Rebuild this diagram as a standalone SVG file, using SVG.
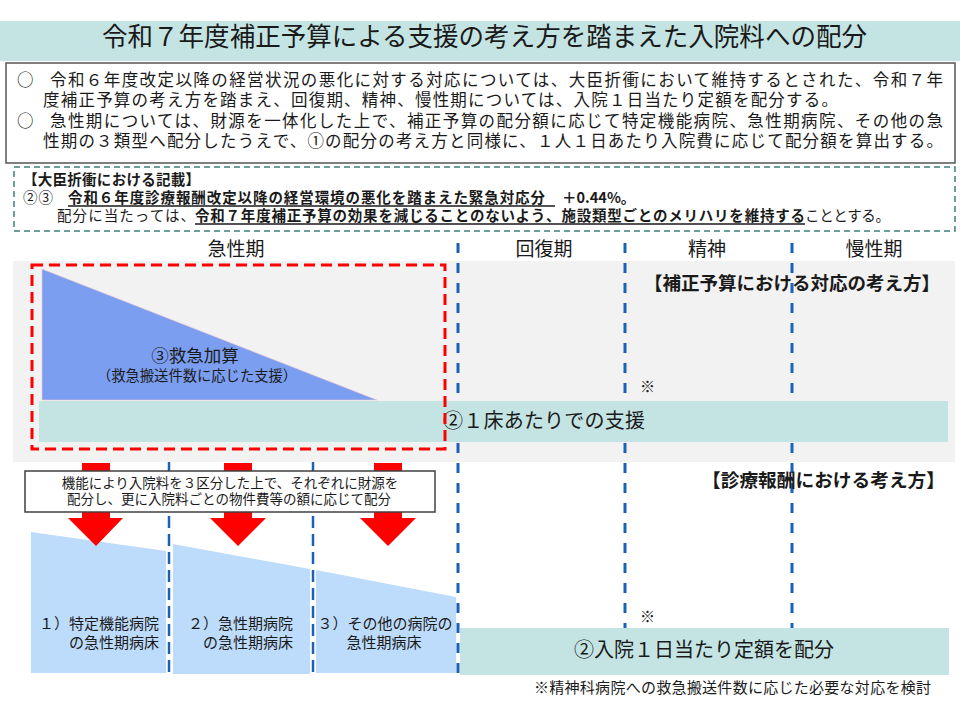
<svg xmlns="http://www.w3.org/2000/svg" width="960" height="720" viewBox="0 0 960 720">
<style>
text{font-family:"Noto Sans CJK JP","Noto Sans",sans-serif;fill:#1a1a1a}
.b{font-weight:bold}
.teal{fill:#c4e4e3}
.lb{fill:#bddcfb}
.vd{stroke:#1a62b8;stroke-width:3;stroke-dasharray:10 10;fill:none}
.vd2{stroke:#1a62b8;stroke-width:2.5;stroke-dasharray:12 6;fill:none}
.arr{fill:#ff0000}
.ul{stroke:#1a1a1a;stroke-width:1.3}
</style>
<rect width="960" height="720" fill="#ffffff"/>
<g id="title">
<rect x="0" y="21" width="960" height="40" class="teal"/>
<text x="102" y="46" font-size="26" textLength="765" lengthAdjust="spacingAndGlyphs">令和７年度補正予算による支援の考え方を踏まえた入院料への配分</text>
</g>
<g id="summary">
<rect x="6" y="63" width="949" height="100" fill="#ffffff" stroke="#555555" stroke-width="1.5"/>
<text x="17" y="86" font-size="16.5">○</text>
<text x="50" y="86" font-size="16.5" textLength="893" lengthAdjust="spacing">令和６年度改定以降の経営状況の悪化に対する対応については、大臣折衝において維持するとされた、令和７年</text>
<text x="43" y="106" font-size="16.5" textLength="795" lengthAdjust="spacing">度補正予算の考え方を踏まえ、回復期、精神、慢性期については、入院１日当たり定額を配分する。</text>
<text x="17" y="127" font-size="16.5">○</text>
<text x="50" y="127" font-size="16.5" textLength="893" lengthAdjust="spacing">急性期については、財源を一体化した上で、補正予算の配分額に応じて特定機能病院、急性期病院、その他の急</text>
<text x="43" y="147" font-size="16.5" textLength="900" lengthAdjust="spacing">性期の３類型へ配分したうえで、①の配分の考え方と同様に、１人１日あたり入院費に応じて配分額を算出する。</text>
</g>
<g id="minister-note">
<rect x="14" y="167" width="941" height="64" fill="none" stroke="#3d7f7c" stroke-width="1.5" stroke-dasharray="6 4"/>
<text x="23" y="185" font-size="14.5" class="b" textLength="177" lengthAdjust="spacing">【大臣折衝における記載】</text>
<text x="23" y="203" font-size="14.5" textLength="30" lengthAdjust="spacing">②③</text>
<text x="68" y="203" font-size="14.5" class="b" textLength="477" lengthAdjust="spacing">令和６年度診療報酬改定以降の経営環境の悪化を踏まえた緊急対応分</text>
<text x="562" y="203" font-size="14.5" class="b">＋0.44%。</text>
<line x1="68" y1="206" x2="555" y2="206" class="ul"/>
<text x="57" y="221" font-size="14.5" textLength="138" lengthAdjust="spacing">配分に当たっては、</text>
<text x="195" y="221" font-size="14.5" class="b" textLength="610" lengthAdjust="spacing">令和７年度補正予算の効果を減じることのないよう、施設類型ごとのメリハリを維持する</text>
<text x="805" y="221" font-size="14.5" textLength="85" lengthAdjust="spacing">こととする。</text>
<line x1="195" y1="224" x2="805" y2="224" class="ul"/>
</g>
<g id="headers">
<text x="236" y="256" font-size="19" text-anchor="middle">急性期</text>
<text x="544" y="256" font-size="19" text-anchor="middle">回復期</text>
<text x="707" y="256" font-size="19" text-anchor="middle">精神</text>
<text x="874" y="256" font-size="19" text-anchor="middle">慢性期</text>
</g>
<g id="supplementary-panel">
<rect x="13" y="261" width="942" height="201" fill="#f2f2f2"/>
</g>
<g id="dividers">
<line x1="458" y1="243" x2="458" y2="675" class="vd"/>
<line x1="625" y1="243" x2="625" y2="675" class="vd"/>
<line x1="792" y1="243" x2="792" y2="675" class="vd"/>
<line x1="169" y1="462" x2="169" y2="675" class="vd2"/>
<line x1="313" y1="462" x2="313" y2="675" class="vd2"/>
</g>
<g id="emergency-addition">
<polygon points="42,269 377,400 42,400" fill="#7b9ef0" stroke="#f0c8d0" stroke-width="0.6"/>
<text x="195" y="362" font-size="17.5" text-anchor="middle">③救急加算</text>
<text x="197" y="381" font-size="14.3" text-anchor="middle">（救急搬送件数に応じた支援）</text>
</g>
<g id="per-bed-support">
<rect x="39" y="401" width="909" height="41" class="teal"/>
<text x="443" y="428" font-size="20" textLength="202" lengthAdjust="spacing">②１床あたりでの支援</text>
</g>
<g id="supplementary-label">
<text x="940" y="290" font-size="18.5" class="b" text-anchor="end">【補正予算における対応の考え方】</text>
<text x="640" y="392" font-size="15">※</text>
</g>
<g id="acute-frame">
<rect x="32" y="265" width="413" height="184" fill="none" stroke="#ff0000" stroke-width="3" stroke-dasharray="11 6"/>
</g>
<g id="hospital-types">
<polygon points="31,532 166,551 166,673 31,673" class="lb"/>
<polygon points="173,544 310,569 310,674 173,674" class="lb"/>
<polygon points="316,570 456,597 456,673 316,673" class="lb"/>
<text x="159" y="629" font-size="15" text-anchor="end">１）特定機能病院</text>
<text x="159" y="648" font-size="15" text-anchor="end">の急性期病床</text>
<text x="293" y="629" font-size="15" text-anchor="end">２）急性期病院</text>
<text x="293" y="648" font-size="15" text-anchor="end">の急性期病床</text>
<text x="385" y="629" font-size="15" text-anchor="middle">３）その他の病院の</text>
<text x="384" y="648" font-size="15" text-anchor="middle">急性期病床</text>
</g>
<g id="connectors">
<polygon points="82,463 110,463 110,518 123,518 96,546 68,518 82,518" class="arr"/>
<polygon points="224,463 252,463 252,518 266,518 238,546 210,518 224,518" class="arr"/>
<polygon points="374,463 402,463 402,518 416,518 388,546 360,518 374,518" class="arr"/>
</g>
<g id="allocation-note">
<rect x="25" y="471" width="410" height="41" fill="#ffffff" stroke="#404040" stroke-width="1.5"/>
<text x="230" y="488" font-size="13.5" text-anchor="middle">機能により入院料を３区分した上で、それぞれに財源を</text>
<text x="229" y="504" font-size="13.5" text-anchor="middle">配分し、更に入院料ごとの物件費等の額に応じて配分</text>
</g>
<g id="fee-label">
<text x="945" y="487" font-size="18.7" class="b" text-anchor="end">【診療報酬における考え方】</text>
<text x="640" y="622" font-size="15">※</text>
</g>
<g id="per-day-allocation">
<rect x="460" y="628" width="489" height="47" class="teal"/>
<text x="704" y="657" font-size="20" text-anchor="middle">②入院１日当たり定額を配分</text>
</g>
<g id="footnote">
<text x="534" y="693" font-size="15" textLength="397" lengthAdjust="spacing">※精神科病院への救急搬送件数に応じた必要な対応を検討</text>
</g>
</svg>
